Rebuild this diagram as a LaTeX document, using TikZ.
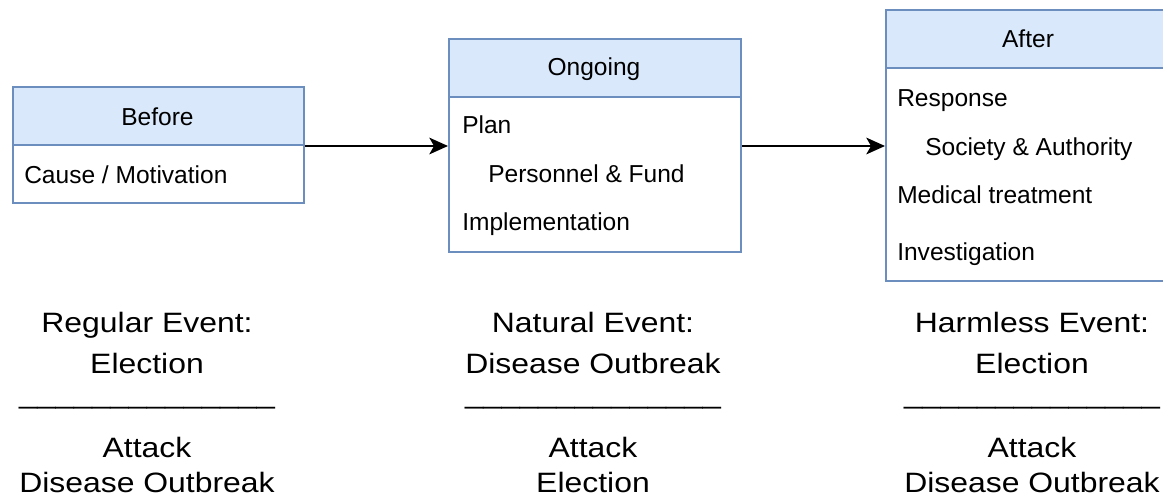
\documentclass[tikz,border=0pt]{standalone}
\usepackage{fontspec}
\setmainfont{Liberation Sans}
\newfontfamily\widefont[FakeStretch=1.14]{Liberation Sans}
\usetikzlibrary{arrows.meta}
\definecolor{hdrfill}{HTML}{DAE8FC}
\definecolor{hdrline}{HTML}{6C8EBF}
\tikzset{
  boxpart/.style={draw=hdrline, line width=1.5pt, inner sep=0pt, anchor=north west, rectangle},
  hdr/.style={boxpart, fill=hdrfill},
  body/.style={boxpart, fill=white},
  boxtext/.style={inner sep=0pt, anchor=base west, font=\fontsize{18.4pt}{22pt}\selectfont},
  hdrtext/.style={inner sep=0pt, anchor=base, font=\fontsize{18.4pt}{22pt}\selectfont},
  captext/.style={inner sep=0pt, anchor=base, font=\widefont\fontsize{21pt}{25pt}\selectfont},
  arr/.style={line width=1.5pt, -{Stealth[length=14pt, width=12.5pt, inset=3.5pt]}}
}
\begin{document}
\begin{tikzpicture}[x=0.75pt, y=-0.75pt]
\useasboundingbox (0,0) rectangle (1163,496);
\clip (0,0) rectangle (1163,496);
\fill[white] (0,0) rectangle (1163,496);

% Before
\node[hdr, minimum width=218.25pt, minimum height=43.5pt] (beforeH) at (12,86) {};
\node[body, minimum width=218.25pt, minimum height=43.5pt] (beforeB) at (12,144) {};
\node[hdrtext] (beforeT) at (157.5,125) {Before};
\node[boxtext] (cause) at (24,183) {Cause / Motivation};

% Ongoing
\node[hdr, minimum width=219pt, minimum height=43.5pt] (ongoingH) at (448,38) {};
\node[body, minimum width=219pt, minimum height=116.25pt] (ongoingB) at (448,96) {};
\node[hdrtext] (ongoingT) at (594,75) {Ongoing};
\node[boxtext] (plan) at (462,133) {Plan};
\node[boxtext] (pers) at (488,182) {Personnel \& Fund};
\node[boxtext] (impl) at (462,230) {Implementation};

% After
\node[hdr, minimum width=214.5pt, minimum height=43.5pt] (afterH) at (885,9) {};
\node[body, minimum width=214.5pt, minimum height=159.75pt] (afterB) at (885,67) {};
\node[hdrtext] (afterT) at (1028,47) {After};
\node[boxtext] (resp) at (897,106) {Response};
\node[boxtext] (soc) at (925,155) {Society \& Authority};
\node[boxtext] (med) at (897,203) {Medical treatment};
\node[boxtext] (inv) at (897,260) {Investigation};

% Arrows
\draw[arr] (beforeH.south east) -- (beforeH.south east -| ongoingB.west);
\draw[arr] (ongoingB.east |- beforeH.south east) -- (afterB.west |- beforeH.south east);

% Captions
\node[captext] (c1a) at (147,332) {Regular Event:};
\node[captext] (c1b) at (147,373) {Election};
\node[captext, xscale=1.03, transform shape] (c1c) at (147,403) {\_\_\_\_\_\_\_\_\_\_\_\_\_\_};
\node[captext] (c1d) at (147,457) {Attack};
\node[captext] (c1e) at (147,492) {Disease Outbreak};

\node[captext] (c2a) at (593,332) {Natural Event:};
\node[captext] (c2b) at (593,373) {Disease Outbreak};
\node[captext, xscale=1.03, transform shape] (c2c) at (593,403) {\_\_\_\_\_\_\_\_\_\_\_\_\_\_};
\node[captext] (c2d) at (593,457) {Attack};
\node[captext] (c2e) at (593,492) {Election};

\node[captext] (c3a) at (1032,332) {Harmless Event:};
\node[captext] (c3b) at (1032,373) {Election};
\node[captext, xscale=1.03, transform shape] (c3c) at (1032,403) {\_\_\_\_\_\_\_\_\_\_\_\_\_\_};
\node[captext] (c3d) at (1032,457) {Attack};
\node[captext] (c3e) at (1032,492) {Disease Outbreak};
\end{tikzpicture}
\end{document}
